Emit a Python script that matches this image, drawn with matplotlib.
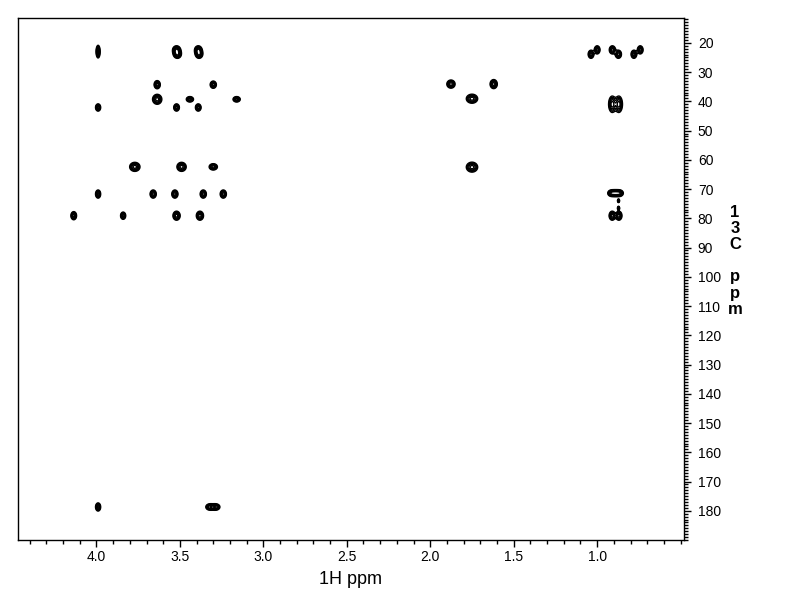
import numpy as np
import matplotlib
matplotlib.use("Agg")
import matplotlib.pyplot as plt
from matplotlib.ticker import MultipleLocator, FormatStrFormatter

# Peak list (1H ppm, 13C ppm, 1H half-width, 13C half-width)
peak_h = [3.99, 3.520, 3.515, 3.390, 3.385,
          1.037, 1.000, 0.909, 0.873, 0.780, 0.742,
          3.636, 3.300, 1.876, 1.620,
          3.636, 3.440, 3.160, 1.750,
          3.990, 3.520, 3.390, 0.910, 0.870,
          3.770, 3.490, 3.300, 1.750,
          3.990, 3.660, 3.530, 3.360, 3.240, 0.915, 0.890, 0.865,
          4.136, 3.840, 3.520, 3.380, 0.910, 0.870, 0.872, 0.872,
          3.990, 3.320, 3.285]
peak_c = [23.0, 22.4, 23.9, 22.4, 23.9,
          23.9, 22.4, 22.4, 23.9, 23.9, 22.4,
          34.3, 34.3, 34.1, 34.1,
          39.3, 39.3, 39.3, 39.1,
          42.1, 42.1, 42.1, 41.0, 41.0,
          62.4, 62.4, 62.4, 62.5,
          71.7, 71.7, 71.7, 71.7, 71.7, 71.4, 71.4, 71.4,
          79.1, 79.1, 79.1, 79.1, 79.1, 79.1, 74.0, 76.5,
          178.7, 178.7, 178.7]
width_h = [0.008, 0.015, 0.015, 0.014, 0.014,
           0.011, 0.011, 0.012, 0.012, 0.011, 0.011,
           0.012, 0.012, 0.016, 0.014,
           0.018, 0.014, 0.014, 0.022,
           0.010, 0.011, 0.011, 0.014, 0.014,
           0.020, 0.018, 0.016, 0.022,
           0.010, 0.012, 0.012, 0.012, 0.012, 0.014, 0.014, 0.014,
           0.011, 0.010, 0.014, 0.014, 0.012, 0.012, 0.004, 0.004,
           0.010, 0.016, 0.016]
width_c = [1.4, 0.9, 0.9, 0.9, 0.9,
           0.9, 0.9, 0.9, 0.9, 0.9, 0.9,
           0.9, 0.8, 0.9, 1.0,
           1.1, 0.6, 0.6, 1.0,
           0.8, 0.8, 0.8, 1.8, 1.8,
           1.0, 1.0, 0.7, 1.1,
           0.9, 0.9, 0.9, 0.9, 0.9, 0.7, 0.7, 0.7,
           0.9, 0.8, 1.0, 1.0, 1.0, 1.0, 0.4, 0.4,
           0.9, 0.7, 0.7]

x_ticks = [4.0, 3.5, 3.0, 2.5, 2.0, 1.5, 1.0]
y_ticks = [20, 30, 40, 50, 60, 70, 80, 90, 100, 110, 120, 130, 140, 150, 160, 170, 180]

xlim = (4.47, 0.48)
ylim = (190.0, 11.5)

plt.rcParams['font.family'] = ['Liberation Sans Narrow', 'Liberation Sans', 'DejaVu Sans']

fig = plt.figure(figsize=(7.92, 6.12), dpi=100)
ax = fig.add_axes([0.0227, 0.1176, 0.8409, 0.853])

# build the 2D surface from the peak list
xs = np.linspace(xlim[1], xlim[0], 1600)
ys = np.linspace(ylim[1], ylim[0], 1100)
X, Y = np.meshgrid(xs, ys)
Z = np.zeros_like(X)
for h, c, wh, wc in zip(peak_h, peak_c, width_h, width_c):
    Z += np.exp(-0.5 * (((X - h) / wh) ** 2 + ((Y - c) / wc) ** 2))

ax.contour(X, Y, Z, levels=[0.3, 0.42, 0.55, 0.7, 0.88, 1.1],
           colors='black', linewidths=1.0)

ax.set_xlim(*xlim)
ax.set_ylim(*ylim)

ax.xaxis.set_minor_locator(MultipleLocator(0.1))
ax.xaxis.set_major_formatter(FormatStrFormatter('%.1f'))
ax.set_xticks(x_ticks)
ax.yaxis.tick_right()
ax.set_yticks(y_ticks)
ax.yaxis.set_minor_locator(MultipleLocator(1))

ax.tick_params(axis='x', which='major', length=5, width=1, direction='out', labelsize=10, pad=2)
ax.tick_params(axis='x', which='minor', length=3, width=1, direction='out')
ax.tick_params(axis='y', which='major', length=5, width=1, direction='out', labelsize=10, pad=5)
ax.tick_params(axis='y', which='minor', length=3, width=1, direction='out')

for s in ax.spines.values():
    s.set_linewidth(1)

ax.set_xlabel('1H ppm', fontsize=13, labelpad=5)
fig.text(0.928, 0.574, "1\n3\nC\n\np\np\nm", fontsize=12, ha='center', va='center',
         linespacing=1.1, fontweight='bold')

fig.savefig('out.png', dpi=100)
